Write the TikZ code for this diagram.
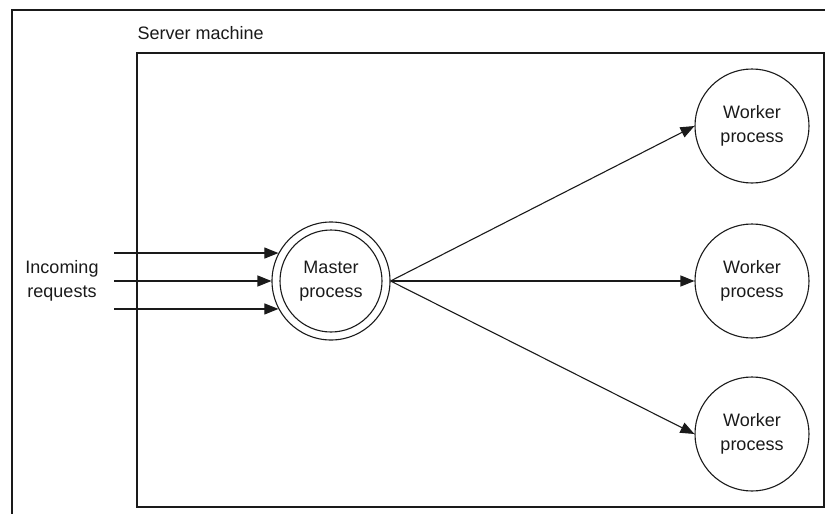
\documentclass[tikz,border=0pt]{standalone}
\usepackage{fontspec}
\setmainfont{Liberation Sans}
\definecolor{mInk}{HTML}{1A1A1A}
\usepackage{tikz}
\usetikzlibrary{positioning,arrows.meta,calc}

\begin{document}
\begin{tikzpicture}[x=1pt, y=-1pt, line width=1.1pt, mInk,
  font=\fontsize{18}{24}\selectfont,
  proc/.style={draw, circle, minimum size=114pt, inner sep=0pt, align=center},
  req/.style={-{Triangle[length=14pt,width=11pt]}},
  flow/.style={-{Triangle[length=14pt,width=11pt]}}]
\useasboundingbox (0,0) rectangle (825,514);
% outer frame (cut off at the bottom and right)
\draw (12,514) -- (12,10) -- (825,10);
% server machine box
\node[anchor=west, inner sep=0pt] (srvlabel) at (137,33) {Server machine};
\draw (137,53) rectangle (824,507);
% master process, double ring
\node[proc, minimum size=118pt] (master) at (331,281) {Master\\process};
\draw (master.center) circle[radius=51];
% worker processes
\node[proc] (w1) at (752,126) {Worker\\process};
\node[proc] (w2) at (752,281) {Worker\\process};
\node[proc] (w3) at (752,434) {Worker\\process};
\foreach \w in {w1,w2,w3}
  \draw[flow] (master.east) -- (\w.west);
% incoming requests
\node[align=center] (incoming) at (62,281) {Incoming\\requests};
\coordinate (reqstart) at (114,0);
\foreach \a in {152,180,208}
  \draw[req] (master.\a -| reqstart) -- (master.\a);
\end{tikzpicture}
\end{document}
